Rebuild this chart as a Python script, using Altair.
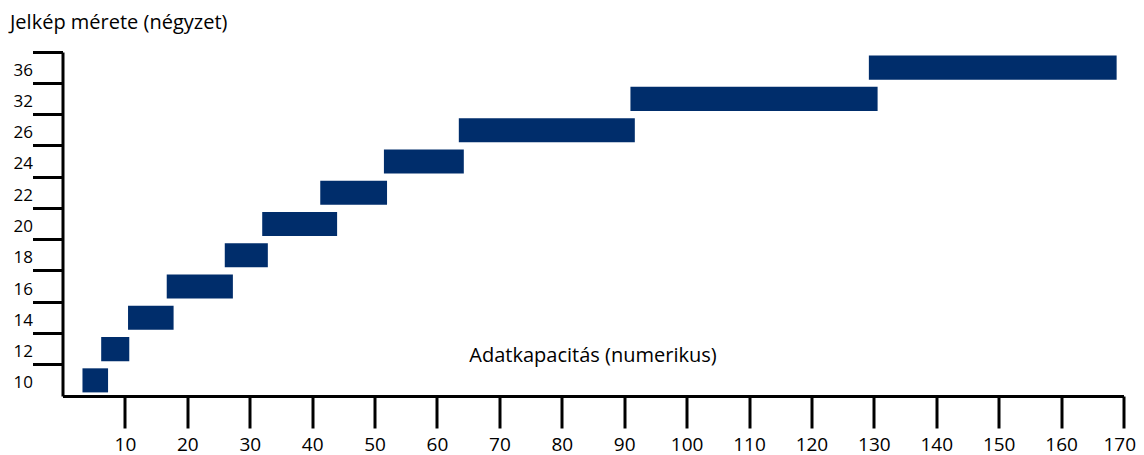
import altair as alt
import pandas as pd

sizes = [10, 12, 14, 16, 18, 20, 22, 24, 26, 32, 36]
cap_start = [3.2, 6.2, 10.5, 16.7, 26.0, 32.0, 41.3, 51.5, 63.5, 91.0, 129.2]
cap_end = [7.3, 10.7, 17.8, 27.3, 32.9, 44.0, 52.0, 64.3, 91.7, 130.6, 168.9]
x_ticks = list(range(10, 171, 10))

df = pd.DataFrame({"size": sizes, "start": cap_start, "end": cap_end})
order = [str(s) for s in sorted(sizes, reverse=True)]
df["size"] = df["size"].astype(str)

FONT = "Open Sans"

chart = alt.Chart(df).mark_bar(color="#002d6b", height={"band": 0.77}).encode(
    x=alt.X(
        "start:Q",
        scale=alt.Scale(domain=[0, 170], nice=False, zero=True),
        axis=alt.Axis(
            title="Adatkapacitás (numerikus)",
            values=x_ticks,
            grid=False,
            domainColor="black",
            domainWidth=3,
            tickColor="black",
            tickWidth=3,
            tickSize=32,
            labelPadding=7,
            labelFont=FONT,
            labelFontSize=19,
            labelColor="black",
            titleFont=FONT,
            titleFontSize=20,
            titleFontWeight="normal",
            titleColor="black",
            titleX=530,
            titleY=-41,
            titleBaseline="middle",
            titleAnchor="start",
            titleAlign="center",
            labelFlush=True,
            labelFlushOffset=12,
        ),
    ),
    x2="end:Q",
    y=alt.Y(
        "size:O",
        sort=order,
        scale=alt.Scale(paddingInner=0, paddingOuter=0),
        axis=alt.Axis(
            title="Jelkép mérete (négyzet)",
            grid=False,
            bandPosition=0,
            domainColor="black",
            domainWidth=3,
            tickColor="black",
            tickWidth=3,
            tickSize=30,
            labelPadding=0,
            labelOffset=3,
            labelFont=FONT,
            labelFontSize=17,
            labelColor="black",
            labelAngle=0,
            titleFont=FONT,
            titleFontSize=20,
            titleFontWeight="normal",
            titleColor="black",
            titleAngle=0,
            titleAlign="left",
            titleBaseline="middle",
            titleX=-53,
            titleY=-30,
        ),
    ),
).properties(
    width=1061,
    height=344,
    autosize=alt.AutoSizeParams(type="none"),
    padding={"left": 54.5, "top": 44, "right": 12, "bottom": 60},
).configure_view(stroke=None)

chart.save("out.html", embed_options={"renderer": "svg", "actions": False})
